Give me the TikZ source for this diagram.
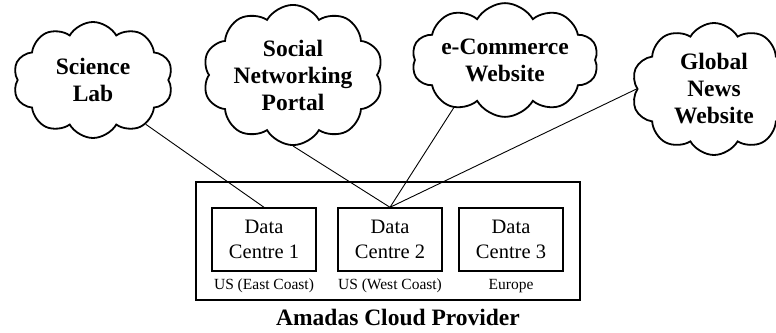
\documentclass[tikz,border=0pt]{standalone}
\usepackage{fontspec}
\setmainfont{Liberation Serif}
\usetikzlibrary{shapes.symbols}
\begin{document}
\begin{tikzpicture}[x=1pt,y=1pt,
  site/.style={cloud, draw, line width=1.8pt, cloud puffs=10, cloud puff arc=120,
    inner sep=0pt, align=center, font=\fontsize{23.5}{27}\selectfont\bfseries},
  centre/.style={draw, line width=1.4pt, minimum width=104pt, minimum height=63pt,
    inner sep=0pt, align=center, font=\fontsize{20.5}{25}\selectfont},
  region/.style={font=\fontsize{15.5}{18}\selectfont},
  link/.style={line width=0.9pt}]
\useasboundingbox (0,0) rectangle (776,-332);

% client sites
\node[site, aspect=1.45, minimum width=160pt, minimum height=116pt] (sl) at (93,-80) {Science\\Lab};
\node[site, aspect=1.45, minimum width=180pt, minimum height=124pt] (sn) at (293,-75) {Social\\Networking\\Portal};
\node[site, aspect=2.1, inner ysep=-9pt, minimum width=180pt, minimum height=95pt] (ec) at (505,-60) {e-Commerce\\Website};
\node[site, aspect=1.3, minimum width=165pt, minimum height=132pt] (gn) at (714,-89) {Global\\News\\Website};

% provider and its data centres
\node[draw, line width=2.6pt, minimum width=384pt, minimum height=118pt, inner sep=0pt] (cp) at (388,-241) {};
\node[centre] (dc1) at (264,-239.5) {Data\\Centre 1};
\node[centre] (dc2) at (390,-239.5) {Data\\Centre 2};
\node[centre] (dc3) at (511,-239.5) {Data\\Centre 3};
\node[region] (r1) at (264,-286) {US (East Coast)};
\node[region] (r2) at (390,-286) {US (West Coast)};
\node[region] (r3) at (511,-286) {Europe};
\node[font=\fontsize{23.5}{27}\selectfont\bfseries] (title) at (398,-317) {Amadas Cloud Provider};

% connections
\draw[link] (sl.-40) -- (dc1.north);
\draw[link] (sn.south) -- (dc2.north);
\draw[link] (ec.-137) -- (dc2.north);
\draw[link] (gn.west) -- (dc2.north);
\end{tikzpicture}
\end{document}
